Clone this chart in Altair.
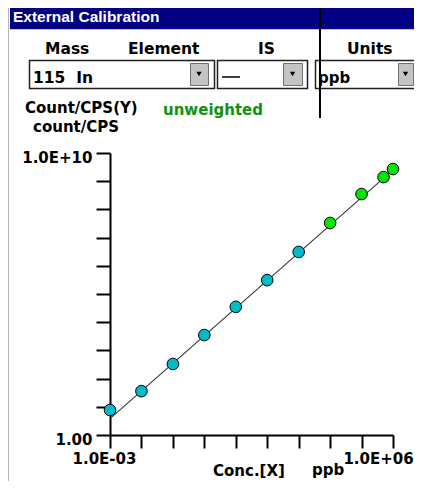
import altair as alt
import pandas as pd

# ---------------- data ----------------
conc = [0.001, 0.01, 0.1, 1, 10, 100, 1000, 10000, 100000, 500000, 1000000]
counts = [7.7, 36, 330, 3500, 35000, 3.1e5, 3.1e6, 3.3e7, 3.5e8, 1.4e9, 2.7e9]
group = ["lower", "lower", "lower", "lower", "lower", "lower", "lower",
         "upper", "upper", "upper", "upper"]
group_names = ["lower", "upper"]
group_colors = ["#00BCC8", "#00E600"]

fit_conc = [0.001, 1.4e6]
fit_counts = [3.8, 3.5e9]

x_ticks = [1e-3, 1e-2, 1e-1, 1, 10, 100, 1000, 1e4, 1e5, 1e6]
y_ticks = [1, 10, 100, 1e3, 1e4, 1e5, 1e6, 1e7, 1e8, 1e9, 1e10]

# ---------------- layout helpers (page pixel coordinates) ----------------
OX, OY = 110, 153          # page position of the plot-area origin
one = pd.DataFrame({"k": [0]})
FONT = "DejaVu Sans"


def rect(x1, y1, x2, y2, fill, stroke=None, sw=1):
    kw = dict(fill=fill)
    if stroke:
        kw.update(stroke=stroke, strokeWidth=sw)
    return alt.Chart(one).mark_rect(**kw).encode(
        x=alt.value(x1 - OX), x2=alt.value(x2 - OX),
        y=alt.value(y1 - OY), y2=alt.value(y2 - OY))


def vline(x, y1, y2, color, w):
    return alt.Chart(one).mark_rule(color=color, strokeWidth=w).encode(
        x=alt.value(x - OX), y=alt.value(y1 - OY), y2=alt.value(y2 - OY))


def hline(x1, x2, y, color, w):
    return alt.Chart(one).mark_rule(color=color, strokeWidth=w).encode(
        x=alt.value(x1 - OX), x2=alt.value(x2 - OX), y=alt.value(y - OY))


def tri(x, y):
    return alt.Chart(one).mark_point(shape="triangle-down", filled=True,
                                     color="black", size=28, opacity=1).encode(
        x=alt.value(x - OX), y=alt.value(y - OY))


def label(s, x, y, size=15, color="black", font=FONT):
    return alt.Chart(one).mark_text(text=s, align="left", baseline="alphabetic",
                                    font=font, fontSize=size, fontWeight="bold",
                                    color=color).encode(
        x=alt.value(x - OX), y=alt.value(y - OY))


def combo(x1, x2, bx1, bx2):
    return [rect(x1 + 0.5, 60.5, x2 + 0.5, 88.5, "white", "#202020", 1.5),
            rect(bx1 + 0.5, 63.5, bx2 + 0.5, 85.5, "#C4C4C4", "#707070", 1),
            tri((bx1 + bx2) / 2, 74)]


deco = []
# window frame
deco.append(rect(0, 0, 430, 6, "#E8E8E8"))
deco.append(rect(0, 0, 9, 500, "#F2F2F2"))
deco.append(vline(5, 0, 500, "#C8C8C8", 1))
deco.append(vline(8.5, 6, 500, "#B4B4B4", 1))
deco.append(hline(0, 430, 1, "#BDBDBD", 1))
# title bar
deco.append(rect(10, 6, 430, 29, "#000080"))
deco.append(hline(10, 430, 29.5, "#C8C8C8", 1))
# combo boxes
deco += combo(29, 214, 190, 208)
deco += combo(217, 307, 283, 302)
deco += combo(315, 440, 398, 413)
deco.append(hline(222, 240, 77, "black", 1.5))
# stray vertical line
deco.append(vline(320, 0, 118, "black", 2))

texts = [
    label("External Calibration", 13, 22, size=15.5, color="white", font="Liberation Sans"),
    label("Mass", 45, 54, size=15.5),
    label("Element", 128, 54, size=15.5),
    label("IS", 258, 54, size=15.5),
    label("Units", 347, 54, size=15.5),
    label("115\u00a0\u00a0In", 33, 83, size=15.5),
    label("ppb", 318, 83),
    label("Count/CPS(Y)", 25, 113),
    label("unweighted", 163, 115, color="#119111"),
    label("count/CPS", 33, 132),
    label("Conc.[X]", 213, 476),
    label("ppb", 312, 475),
]

# ---------------- chart ----------------
xs = alt.Scale(type="log", domain=[1e-3, 1e6], nice=False)
ys = alt.Scale(type="log", domain=[1, 1e10], nice=False)

common_axis = dict(title=None, grid=False, tickColor="black", domainColor="black",
                   tickWidth=2, domainWidth=2, labelFont=FONT, labelFontSize=15,
                   labelFontWeight="bold", labelColor="black", labelFlush=False,
                   labelOverlap=False)
xaxis = alt.Axis(values=x_ticks, tickSize=13, labelPadding=3,
                 labelOffset={"condition": {"test": "datum.value > 500000", "value": -15},
                              "value": -6},
                 labelExpr="datum.value < 0.002 ? '1.0E-03' : (datum.value > 500000 ? '1.0E+06' : '')",
                 **common_axis)
yaxis = alt.Axis(values=y_ticks, tickSize=14, labelPadding=4, labelBaseline="middle",
                 labelOffset=4,
                 labelExpr="datum.value < 2 ? '1.00' : (datum.value > 5e9 ? '1.0E+10' : '')",
                 **common_axis)

fit_df = pd.DataFrame({"conc": fit_conc, "counts": fit_counts})
pts_df = pd.DataFrame({"conc": conc, "counts": counts, "group": group})

fit_line = alt.Chart(fit_df).mark_line(color="#333333", strokeWidth=1.1, clip=False).encode(
    x=alt.X("conc:Q", scale=xs, axis=xaxis),
    y=alt.Y("counts:Q", scale=ys, axis=yaxis))

points = alt.Chart(pts_df).mark_point(shape="circle", filled=True, size=135, opacity=1,
                                      stroke="black", strokeWidth=1, clip=False).encode(
    x=alt.X("conc:Q", scale=xs, axis=xaxis),
    y=alt.Y("counts:Q", scale=ys, axis=yaxis),
    fill=alt.Fill("group:N", scale=alt.Scale(domain=group_names, range=group_colors),
                  legend=None))

chart = alt.layer(*deco, fit_line, points, *texts).properties(
    width=283, height=282,
    padding={"left": 102, "top": 145, "right": 21, "bottom": 46},
    autosize=alt.AutoSizeParams(type="none"),
    background="white",
).configure_view(stroke=None)

chart.save("out.html", embed_options={"renderer": "svg", "actions": False})
